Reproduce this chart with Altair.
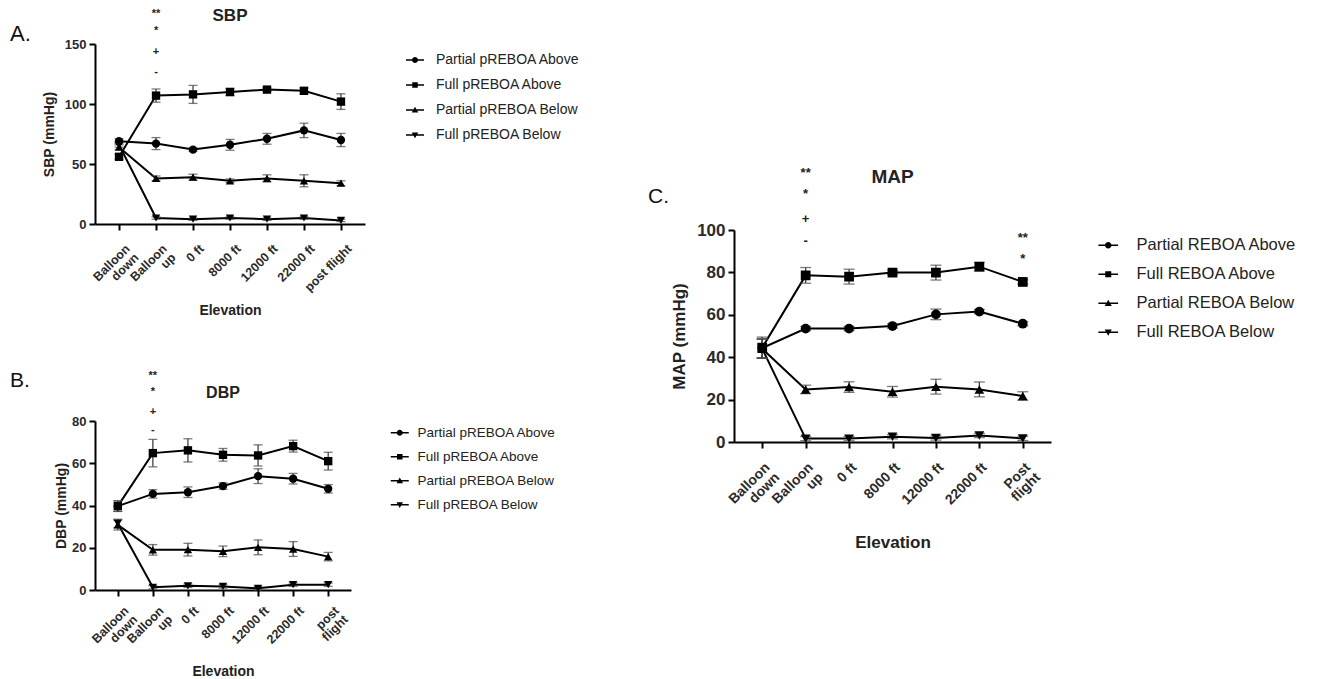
import altair as alt
import pandas as pd

FONT = "Liberation Sans"

CATS_AB = ["Balloon down", "Balloon up", "0 ft", "8000 ft", "12000 ft", "22000 ft", "post flight"]
CATS_C = ["Balloon down", "Balloon up", "0 ft", "8000 ft", "12000 ft", "22000 ft", "Post flight"]
SERIES_AB = ["Partial pREBOA Above", "Full pREBOA Above", "Partial pREBOA Below", "Full pREBOA Below"]
SERIES_C = ["Partial REBOA Above", "Full REBOA Above", "Partial REBOA Below", "Full REBOA Below"]

# ---- SBP (mean, SEM) ----
sbp_partial_above = [69, 67, 62, 66, 71, 78, 70]
sbp_partial_above_err = [2, 5, 1.5, 4.5, 4.5, 6, 5.5]
sbp_full_above = [56, 107, 108, 110, 112, 111, 102]
sbp_full_above_err = [2, 5.5, 7.5, 3, 1.5, 2.5, 6.5]
sbp_partial_below = [64, 38, 39, 36, 38, 36, 34]
sbp_partial_below_err = [2, 2, 2.5, 1.5, 3, 5, 2]
sbp_full_below = [66, 5, 4, 5, 4, 5, 3]
sbp_full_below_err = [2, 1, 1, 1, 1, 1, 1]

# ---- DBP (mean, SEM) ----
dbp_partial_above = [39.7, 45.5, 46.3, 49.2, 53.9, 52.7, 47.9]
dbp_partial_above_err = [2.5, 2, 2.5, 1.5, 3.5, 2.5, 2]
dbp_full_above = [39.7, 64.8, 66.1, 64, 63.7, 68.1, 61]
dbp_full_above_err = [2.5, 6.5, 5.5, 3, 5, 2.8, 4.2]
dbp_partial_below = [30.8, 19, 19.1, 18.3, 20.2, 19.4, 15.8]
dbp_partial_below_err = [2.4, 2.5, 3, 2.5, 3.5, 3.5, 2]
dbp_full_below = [31.5, 1.3, 2, 1.7, 0.8, 2.5, 2.5]
dbp_full_below_err = [2, 0.8, 0.8, 0.8, 0.8, 0.8, 0.8]

# ---- MAP (mean, SEM) ----
map_partial_above = [44.3, 53.5, 53.5, 54.7, 60.2, 61.5, 55.8]
map_partial_above_err = [4.5, 1, 1, 1, 2.5, 1, 1]
map_full_above = [44.5, 78.6, 78, 79.9, 79.9, 82.7, 75.5]
map_full_above_err = [5, 3.7, 3.5, 1, 3.5, 2, 1]
map_partial_below = [44, 24.8, 25.9, 23.7, 26.1, 24.8, 21.7]
map_partial_below_err = [4.5, 2, 2.5, 2.5, 3.5, 3.5, 2]
map_full_below = [44, 1.6, 1.6, 2.5, 1.9, 3.1, 1.7]
map_full_below_err = [4.5, 1, 1, 1, 1, 1, 1]

# ---- significance annotations ----
sig_marks = ["**", "*", "+", "-"]
sbp_sig_y = [175, 161, 143, 127]
dbp_sig_y = [101.5, 93.8, 84.3, 75.6]
map_sig_y = [126.7, 117.2, 105, 94.8]
map_post_marks = ["**", "*"]
map_post_y = [96.4, 86.5]

# ---- styles (not data) ----
POINT_SHAPES = ["circle", "square", "triangle-up", "triangle-down"]
LINE = "M-1.8,-0.15H1.8V0.15H-1.8Z"
LEGEND_PATHS = [
    LINE + "M0.6,0A0.6,0.6,0,1,1,-0.6,0A0.6,0.6,0,1,1,0.6,0Z",
    LINE + "M-0.55,-0.55H0.55V0.55H-0.55Z",
    LINE + "M0,-0.65L0.65,0.5H-0.65Z",
    LINE + "M0,0.65L-0.65,-0.5H0.65Z",
]


def make_df(cats, series, means, errs):
    rows = []
    for s, m, e in zip(series, means, errs):
        for c, v, er in zip(cats, m, e):
            rows.append({"Elevation": c, "Series": s, "value": v, "lo": v - er, "hi": v + er})
    return pd.DataFrame(rows)


def panel(df, cats, series, title, ytitle, ymax, yvals, w, h, s, sig, letter):
    xscale = alt.Scale(domain=cats, type="point", padding=0.65)
    yscale = alt.Scale(domain=[0, ymax], nice=False, zero=True)
    xaxis = alt.Axis(
        title="Elevation", labelAngle=-45, labelAlign="right", labelBaseline="top",
        labelExpr=s["labelExpr"], labelFont=FONT, labelFontSize=s["xlab"], labelFontWeight="bold",
        labelColor="#2a2a2a", labelLineHeight=s["xlab"], labelPadding=s["lpad"], labelOffset=s["ldx"],
        labelOverlap=False, labelLimit=300, titleFont=FONT, titleFontSize=s["atitle"], titleFontWeight="bold",
        titleColor="#222", titleY=s["titleY"], titleBaseline="middle",
        tickSize=6, tickWidth=2, tickColor="black", domainColor="black", domainWidth=2, grid=False,
    )
    yaxis = alt.Axis(
        title=ytitle, values=yvals, labelFont=FONT, labelFontSize=s["ylab"], labelFontWeight="bold",
        labelColor="#2a2a2a", labelPadding=3, titleFont=FONT, titleFontSize=s["atitle"],
        titleFontWeight="bold", titleColor="#222", titleX=s["titleX"], titleBaseline="middle",
        tickSize=6, tickWidth=2, tickColor="black", domainColor="black", domainWidth=2, grid=False,
    )
    X = alt.X("Elevation:N", sort=cats, scale=xscale, axis=xaxis)

    def Y(field):
        return alt.Y(field, type="quantitative", scale=yscale, axis=yaxis)

    base = alt.Chart(df)
    line = base.mark_line(color="black", strokeWidth=2).encode(x=X, y=Y("value"), detail="Series:N")
    err = base.mark_rule(color="#444", strokeWidth=1.3).encode(x=X, y=Y("lo"), y2="hi:Q")
    caps = base.transform_fold(["lo", "hi"], as_=["k", "cap"]).mark_tick(
        color="#444", thickness=1.3, size=s["cap"]
    ).encode(x=X, y=Y("cap"))
    pts = base.mark_point(filled=True, color="black", opacity=1, size=s["msize"]).encode(
        x=X, y=Y("value"),
        shape=alt.Shape("Series:N", scale=alt.Scale(domain=series, range=POINT_SHAPES), legend=None),
    )
    leg = base.transform_filter("datum.value < -100000").mark_point(
        filled=True, color="black", opacity=1
    ).encode(
        x=X, y=Y("value"),
        shape=alt.Shape(
            "Series:N", scale=alt.Scale(domain=series, range=LEGEND_PATHS),
            legend=alt.Legend(
                title=None, orient="none", legendX=s["legX"], legendY=s["legY"], padding=0,
                labelFont=FONT, labelFontSize=s["legfont"], labelColor="#222", labelLimit=400,
                symbolSize=s["legsym"], symbolFillColor="black", symbolStrokeWidth=0,
                labelOffset=s["legoff"], rowPadding=s["rowpad"],
            ),
        ),
    )
    sig_layers = []
    for (cat, marks, ys) in sig:
        sdf = pd.DataFrame({"Elevation": [cat] * len(marks), "sy": ys, "txt": marks})
        sig_layers.append(
            alt.Chart(sdf).mark_text(font=FONT, fontSize=s["sigfont"], fontWeight="bold", color="#222",
                                     baseline="middle").encode(x=X, y=Y("sy"), text="txt:N")
        )
    lab = alt.Chart(pd.DataFrame({"t": [letter]})).mark_text(
        font=FONT, fontSize=s["letter"], align="left", baseline="top", color="#111"
    ).encode(text="t:N", x=alt.value(s["letX"]), y=alt.value(s["letY"]))
    ttl = alt.Chart(pd.DataFrame({"t": [title]})).mark_text(
        font=FONT, fontSize=s["tfont"], fontWeight="bold", align="center", baseline="middle", color="#222"
    ).encode(text="t:N", x=alt.value(w / 2), y=alt.value(-s["toff"]))

    return alt.layer(line, err, caps, pts, leg, *sig_layers, lab, ttl).resolve_scale(
        shape="independent"
    ).properties(width=w, height=h)


AB_SPLIT_A = "indexof(datum.label, 'Balloon') == 0 ? split(datum.label, ' ') : datum.label"
SPLIT_BC = "indexof(datum.label, ' ft') > 0 ? datum.label : split(datum.label, ' ')"

style_A = dict(labelExpr=AB_SPLIT_A, xlab=12.5, lpad=12, ldx=4, atitle=14, titleY=86, ylab=13, titleX=-46,
               cap=9, msize=70, legX=313, legY=9, legfont=14, legsym=100, legoff=14, rowpad=11,
               sigfont=11, letter=22, letX=-85, letY=-20, tfont=17, toff=28)
style_B = dict(labelExpr=SPLIT_BC, xlab=12.5, lpad=8, ldx=4, atitle=14, titleY=81, ylab=13, titleX=-34,
               cap=9, msize=70, legX=298, legY=5, legfont=13.5, legsym=100, legoff=11, rowpad=9,
               sigfont=11, letter=21, letX=-85, letY=-51, tfont=16, toff=28)
style_C = dict(labelExpr=SPLIT_BC, xlab=14, lpad=12, ldx=0, atitle=17, titleY=100, ylab=17, titleX=-55,
               cap=11, msize=95, legX=366, legY=7, legfont=16.5, legsym=120, legoff=20, rowpad=12,
               sigfont=13, letter=21, letX=-86, letY=-44, tfont=19, toff=53)

df_A = make_df(CATS_AB, SERIES_AB,
               [sbp_partial_above, sbp_full_above, sbp_partial_below, sbp_full_below],
               [sbp_partial_above_err, sbp_full_above_err, sbp_partial_below_err, sbp_full_below_err])
df_B = make_df(CATS_AB, SERIES_AB,
               [dbp_partial_above, dbp_full_above, dbp_partial_below, dbp_full_below],
               [dbp_partial_above_err, dbp_full_above_err, dbp_partial_below_err, dbp_full_below_err])
df_C = make_df(CATS_C, SERIES_C,
               [map_partial_above, map_full_above, map_partial_below, map_full_below],
               [map_partial_above_err, map_full_above_err, map_partial_below_err, map_full_below_err])

A = panel(df_A, CATS_AB, SERIES_AB, "SBP", "SBP (mmHg)", 150, [0, 50, 100, 150], 270, 180, style_A,
          [("Balloon up", sig_marks, sbp_sig_y)], "A.")
B = panel(df_B, CATS_AB, SERIES_AB, "DBP", "DBP (mmHg)", 80, [0, 20, 40, 60, 80], 256, 169, style_B,
          [("Balloon up", sig_marks, dbp_sig_y)], "B.")
C = panel(df_C, CATS_C, SERIES_C, "MAP", "MAP (mmHg)", 100, [0, 20, 40, 60, 80, 100], 317, 212, style_C,
          [("Balloon up", sig_marks, map_sig_y), ("Post flight", map_post_marks, map_post_y)], "C.")

spacer = alt.Chart(pd.DataFrame({"s": [0]})).mark_point(opacity=0).encode(
    x=alt.value(0), y=alt.value(0)
).properties(width=1, height=113)

left = alt.vconcat(A, B, spacing=52).resolve_scale(shape="independent").resolve_legend(shape="independent")
right = alt.vconcat(spacer, C, spacing=10).resolve_scale(shape="independent").resolve_legend(shape="independent")

chart = alt.hconcat(left, right, spacing=68).resolve_scale(shape="independent").resolve_legend(
    shape="independent"
).properties(
    padding={"left": 10, "top": 7, "right": 5, "bottom": 5}
).configure(font=FONT, background="white").configure_view(strokeWidth=0, stroke="transparent")

chart.save("out.html", embed_options={"renderer": "svg", "actions": False})
